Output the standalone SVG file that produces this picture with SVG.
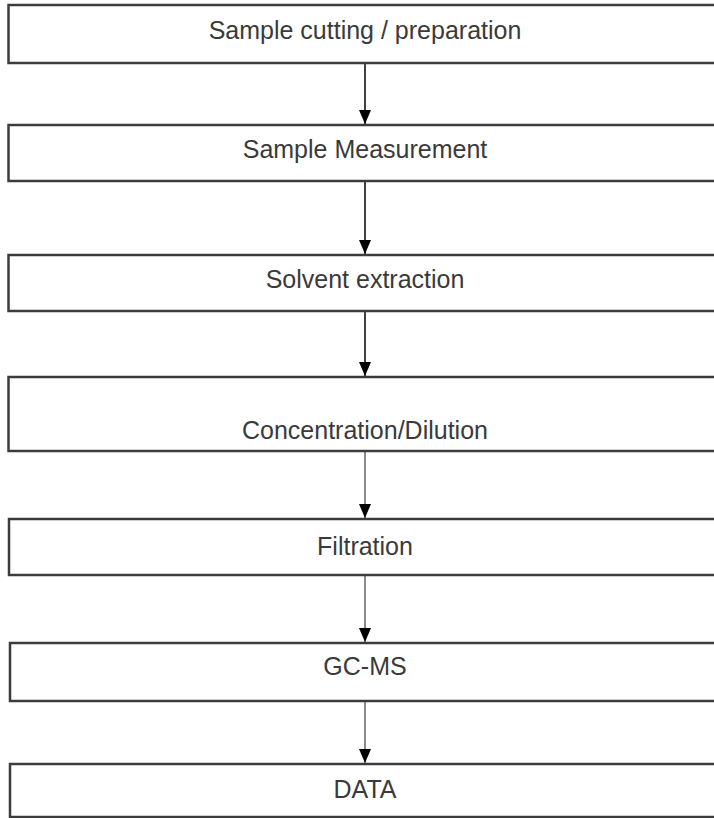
<svg xmlns="http://www.w3.org/2000/svg" width="714" height="818" viewBox="0 0 714 818">
<defs>
<style>
.box{fill:#ffffff;stroke:#3c3c3c;stroke-width:2.5}
.lbl{font-family:"Liberation Sans",Arial,sans-serif;font-size:25px;fill:#3a3a3a;text-anchor:middle}
.c{fill:none;stroke:#111;stroke-width:1.6}
.cg{fill:none;stroke:#8a8a8a;stroke-width:2}
</style>
<marker id="ah" markerUnits="userSpaceOnUse" markerWidth="16" markerHeight="14" refX="15" refY="7" orient="auto" viewBox="0 0 16 14">
<path d="M1,1 L15,7 L1,13 Z" fill="#000"/>
</marker>
</defs>
<rect width="714" height="818" fill="#fff"/>
<g id="connectors">
<line class="c" x1="365" y1="64" x2="365" y2="124" marker-end="url(#ah)"/>
<line class="c" x1="365" y1="182" x2="365" y2="254" marker-end="url(#ah)"/>
<line class="c" x1="365" y1="312" x2="365" y2="376" marker-end="url(#ah)"/>
<line class="cg" x1="365" y1="452" x2="365" y2="518" marker-end="url(#ah)"/>
<line class="cg" x1="365" y1="576" x2="365" y2="642" marker-end="url(#ah)"/>
<line class="cg" x1="365" y1="702" x2="365" y2="763" marker-end="url(#ah)"/>
</g>
<g id="n1"><rect class="box" x="8.5" y="5" width="720" height="58"/><text class="lbl" x="365" y="39">Sample cutting / preparation</text></g>
<g id="n2"><rect class="box" x="8.5" y="125" width="720" height="56"/><text class="lbl" x="365" y="158">Sample Measurement</text></g>
<g id="n3"><rect class="box" x="8.5" y="255" width="720" height="56"/><text class="lbl" x="365" y="288">Solvent extraction</text></g>
<g id="n4"><rect class="box" x="8.5" y="377" width="720" height="74"/><text class="lbl" x="365" y="439">Concentration/Dilution</text></g>
<g id="n5"><rect class="box" x="9" y="519" width="720" height="56"/><text class="lbl" x="365" y="555">Filtration</text></g>
<g id="n6"><rect class="box" x="10" y="643" width="720" height="58"/><text class="lbl" x="365" y="675">GC-MS</text></g>
<g id="n7"><rect class="box" x="10" y="764" width="720" height="53"/><text class="lbl" x="365" y="798">DATA</text></g>
</svg>
